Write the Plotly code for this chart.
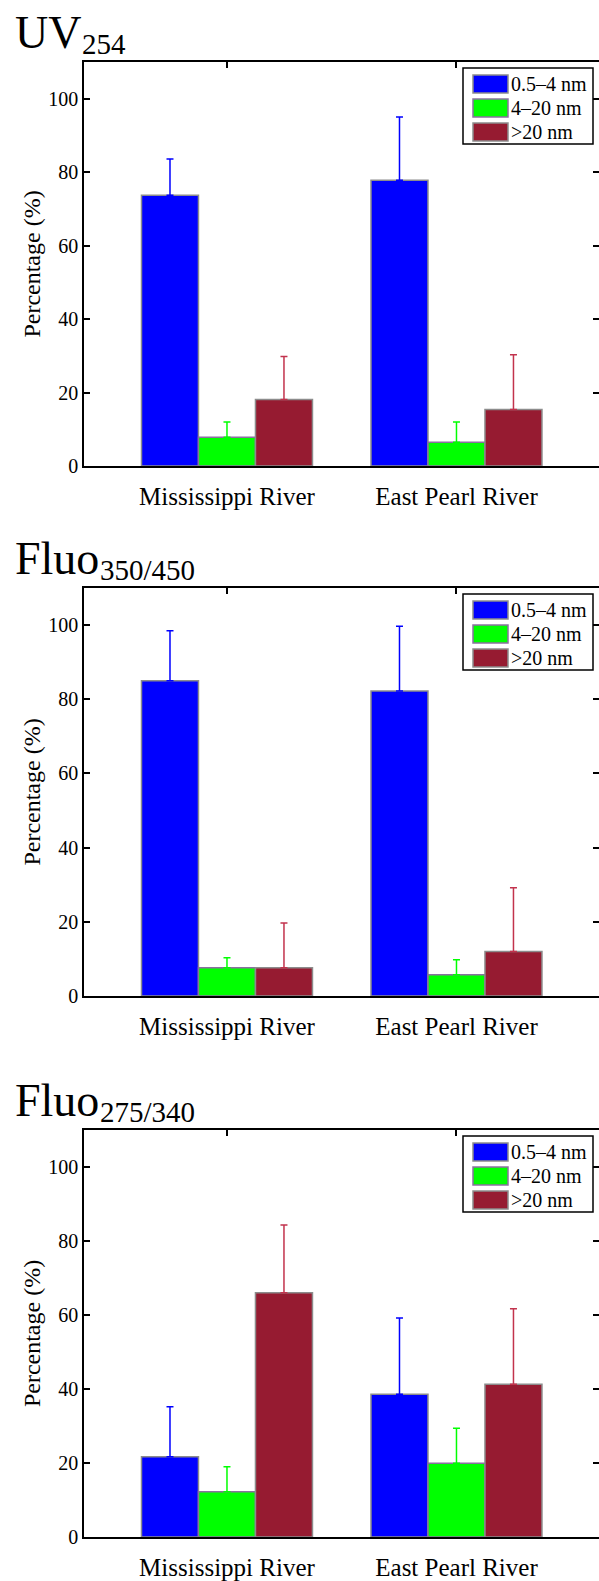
import plotly.graph_objects as go

# ---------------- data ----------------
categories = ["Mississippi River", "East Pearl River"]
size_classes = ["0.5–4 nm", "4–20 nm", ">20 nm"]
title_main = ["UV", "Fluo", "Fluo"]
title_sub = ["254", "350/450", "275/340"]

# means per size class, [Mississippi, East Pearl]
uv254_mean = [[73.7, 77.8], [7.8, 6.5], [18.1, 15.4]]
uv254_err = [[9.9, 17.2], [4.2, 5.5], [11.7, 14.9]]

fluo350_mean = [[85.0, 82.2], [7.6, 5.7], [7.6, 12.0]]
fluo350_err = [[13.5, 17.5], [2.7, 4.1], [12.1, 17.2]]

fluo275_mean = [[21.7, 38.6], [12.2, 19.9], [66.0, 41.3]]
fluo275_err = [[13.5, 20.6], [6.8, 9.5], [18.3, 20.4]]

y_ticks = [0, 20, 40, 60, 80, 100]

# ---------------- style ----------------
W, H = 599, 1581
L = 84
bar_colors = ["#0000FF", "#00FF00", "#961B31"]
err_colors = ["#0000FF", "#00FF00", "#C2334D"]
edge_colors = ["#8C8C8C", "#8A70A0", "#8C8C8C"]
FONT = "Liberation Serif, Times New Roman, serif"
TITLE_SIZE, SUB_SIZE = 46, 29

panel_px = [(62, 466), (588, 996), (1130, 1537)]  # (top, bottom) in page px
sub_x_px = [81, 99, 99]                             # where the subscript starts


def py(v):
    return 1 - v / H


def px(v):
    return (v - L) / (W - L)


fig = go.Figure()
panels = [(uv254_mean, uv254_err), (fluo350_mean, fluo350_err), (fluo275_mean, fluo275_err)]
shapes = []
annotations = []

for p, (means, errs) in enumerate(panels):
    xa = "x" if p == 0 else f"x{p + 1}"
    ya = "y" if p == 0 else f"y{p + 1}"
    for k in range(3):
        fig.add_trace(go.Bar(
            x=[1, 2], y=means[k], name=size_classes[k],
            marker=dict(color=bar_colors[k], line=dict(color=edge_colors[k], width=1.5)),
            error_y=dict(type="data", symmetric=False, array=errs[k], arrayminus=[0, 0],
                         color=err_colors[k], thickness=1.5, width=3.5),
            xaxis=xa, yaxis=ya, showlegend=False, offsetgroup=str(k),
        ))
    top, bot = panel_px[p]
    dom = [py(bot), py(top)]
    xkey = "xaxis" if p == 0 else f"xaxis{p + 1}"
    ykey = "yaxis" if p == 0 else f"yaxis{p + 1}"
    fig.layout[xkey] = dict(
        domain=[0, 1], anchor=ya, range=[0.377, 2.621],
        tickvals=[1, 2], ticktext=categories, automargin=False,
        ticks="inside", ticklen=6, tickwidth=1.5, tickcolor="black",
        showline=True, linecolor="black", linewidth=1.5, mirror="ticks",
        showgrid=False, zeroline=False, layer="below traces",
        tickfont=dict(family=FONT, size=25, color="black"),
        ticklabelstandoff=7,
    )
    fig.layout[ykey] = dict(
        domain=dom, anchor=xa, range=[0, 110], automargin=False,
        tickvals=y_ticks,
        ticks="inside", ticklen=6, tickwidth=1.5, tickcolor="black",
        showline=True, linecolor="black", linewidth=1.5,
        showgrid=False, zeroline=False,
        tickfont=dict(family=FONT, size=20, color="black"),
        title=dict(text="Percentage (%)", font=dict(family=FONT, size=24, color="black"), standoff=1),
    )
    # right-side ticks without the right frame line
    rkey = f"yaxis{p + 4}"
    fig.layout[rkey] = dict(
        domain=dom, overlaying=ya, anchor=xa, side="right", range=[0, 110], automargin=False,
        tickvals=y_ticks, showticklabels=False,
        ticks="inside", ticklen=6, tickwidth=1.5, tickcolor="black",
        showline=False, showgrid=False, zeroline=False,
    )
    # panel title: main text + subscript
    base_main = top - 14
    base_sub = top - 8
    annotations.append(dict(
        xref="paper", yref="paper", x=px(14), y=py(base_main - 0.3375 * TITLE_SIZE),
        xanchor="left", yanchor="middle", text=title_main[p], showarrow=False,
        font=dict(family=FONT, size=TITLE_SIZE, color="black"), borderpad=0,
    ))
    annotations.append(dict(
        xref="paper", yref="paper", x=px(sub_x_px[p]), y=py(base_sub - 0.3375 * SUB_SIZE),
        xanchor="left", yanchor="middle", text=title_sub[p], showarrow=False,
        font=dict(family=FONT, size=SUB_SIZE, color="black"), borderpad=0,
    ))
    # legend box
    shapes.append(dict(type="rect", xref="paper", yref="paper",
                       x0=px(463), x1=px(593), y0=py(top + 82), y1=py(top + 6),
                       line=dict(color="black", width=1.5), fillcolor="white", layer="above"))
    for k in range(3):
        y0 = top + 13 + 24 * k
        shapes.append(dict(type="rect", xref="paper", yref="paper",
                           x0=px(473), x1=px(508), y0=py(y0 + 18), y1=py(y0),
                           line=dict(color=edge_colors[k], width=1.5), fillcolor=bar_colors[k],
                           layer="above"))
        annotations.append(dict(
            xref="paper", yref="paper", x=px(509), y=py(y0 + 9), xanchor="left", yanchor="middle",
            text=size_classes[k], showarrow=False,
            font=dict(family=FONT, size=20, color="black"),
        ))

# empty traces so the right tick axes render
for p in range(3):
    xa = "x" if p == 0 else f"x{p + 1}"
    fig.add_trace(go.Scatter(x=[None], y=[None], xaxis=xa, yaxis=f"y{p + 4}",
                             showlegend=False, hoverinfo="skip"))

fig.update_layout(
    width=W, height=H,
    margin=dict(l=L, r=0, t=0, b=0, autoexpand=False),
    barmode="group", bargap=0.255, bargroupgap=0,
    plot_bgcolor="white", paper_bgcolor="white",
    showlegend=False,
    shapes=shapes, annotations=annotations,
    font=dict(family=FONT, color="black"),
)

fig.write_html("out.html", config={"displayModeBar": False},
               post_script="document.body.style.margin='0';")
